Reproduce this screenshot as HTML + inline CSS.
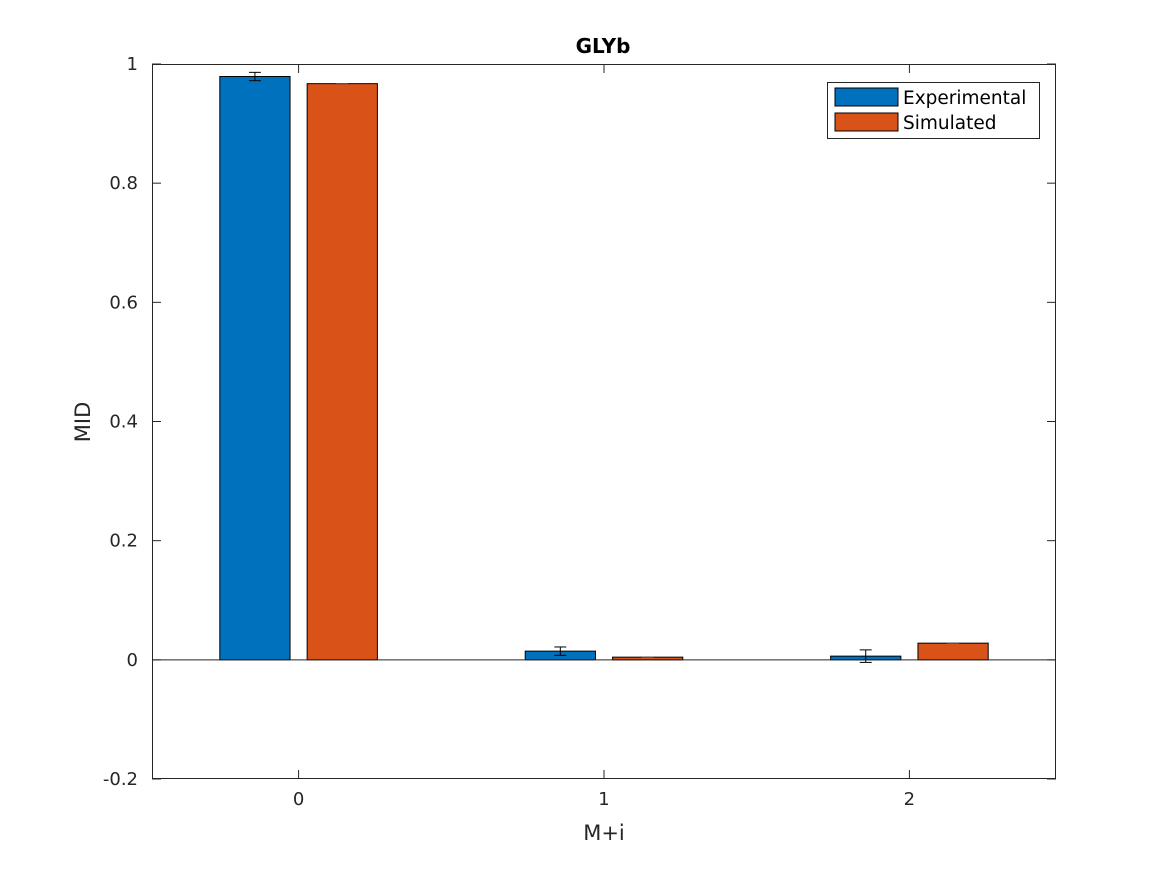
<!DOCTYPE html>
<html><head><meta charset="utf-8"><style>
body{margin:0;background:#fff;}
svg{display:block;font-family:"DejaVu Sans","Liberation Sans",sans-serif;}
</style></head><body>
<svg id="chart" width="1167" height="875" viewBox="0 0 1167 875"></svg>
<script>
const categories=["0","1","2"];
const experimental=[0.979,0.0146,0.0062];
const experimentalErr=[0.007,0.007,0.0105];
const simulated=[0.967,0.0045,0.028];
const yTicks=[-0.2,0,0.2,0.4,0.6,0.8,1];
const yTickLabels=["-0.2","0","0.2","0.4","0.6","0.8","1"];
const svg=document.getElementById('chart');
const NS='http://www.w3.org/2000/svg';
const L=152,R=1056,T=64,B=779;
const xmin=-0.48,xmax=2.48,ymin=-0.2,ymax=1;
const xs=v=>L+(v-xmin)/(xmax-xmin)*(R-L);
const ys=v=>B-(v-ymin)/(ymax-ymin)*(B-T);
function el(t,a,p){const e=document.createElementNS(NS,t);for(const k in a)e.setAttribute(k,a[k]);(p||svg).appendChild(e);return e;}
el('rect',{x:L,y:T,width:R-L,height:B-T,fill:'#fff',stroke:'none'});
const bw=0.23,off=0.143;
function drawBars(vals,color,sign,name){
  vals.forEach((v,i)=>{
    const c=i+sign*off;
    const y0=ys(0),y1=ys(v);
    const r=el('rect',{x:xs(c-bw/2),y:Math.min(y0,y1),width:xs(c+bw/2)-xs(c-bw/2),height:Math.abs(y0-y1),fill:color,stroke:'#000','stroke-width':1});
    
    
  });
}
drawBars(experimental,'#0072BD',-1,'experimental');
drawBars(simulated,'#D95319',1,'simulated');
experimental.forEach((v,i)=>{
  const c=xs(i-off),e=experimentalErr[i];
  const g=el('g',{stroke:'#000','stroke-width':1});
  
  
  el('line',{x1:c,x2:c,y1:ys(v-e),y2:ys(v+e)},g);
  el('line',{x1:c-6,x2:c+6,y1:ys(v-e),y2:ys(v-e)},g);
  el('line',{x1:c-6,x2:c+6,y1:ys(v+e),y2:ys(v+e)},g);
});
simulated.forEach((v,i)=>{
  const c=xs(i+off);
  el('line',{x1:c-6,x2:c+6,y1:ys(v),y2:ys(v),stroke:'#555','stroke-width':1});
});
el('line',{x1:L,x2:R,y1:ys(0),y2:ys(0),stroke:'#262626','stroke-width':1});
const ax=el('rect',{x:L+0.5,y:T+0.5,width:R-L-1,height:B-T-1,fill:'none',stroke:'#262626','stroke-width':1});

yTicks.forEach((t,i)=>{
  const y=ys(t);
  el('line',{x1:L,x2:L+9,y1:y,y2:y,stroke:'#262626'});
  el('line',{x1:R-9,x2:R,y1:y,y2:y,stroke:'#262626'});
  const tx=el('text',{x:L-14,y:y+6,'text-anchor':'end','font-size':18,fill:'#262626'});
  tx.textContent=yTickLabels[i];
  
});
categories.forEach((c,i)=>{
  const x=xs(i);
  el('line',{x1:x,x2:x,y1:B,y2:B-9,stroke:'#262626'});
  el('line',{x1:x,x2:x,y1:T,y2:T+9,stroke:'#262626'});
  const tx=el('text',{x:x,y:B+26,'text-anchor':'middle','font-size':18,fill:'#262626'});
  tx.textContent=c;
  
});
</script>
<svg style="position:absolute;left:0;top:0" width="1167" height="875">
<text x="603" y="53" text-anchor="middle" font-size="20" font-weight="bold" fill="#000" font-family="DejaVu Sans,sans-serif">GLYb</text>
<text x="604" y="840" text-anchor="middle" font-size="21" fill="#262626" font-family="DejaVu Sans,sans-serif">M+i</text>
<text transform="translate(90,422) rotate(-90)" text-anchor="middle" font-size="21" fill="#262626" font-family="DejaVu Sans,sans-serif">MID</text>
<g>
<rect x="827.5" y="82.5" width="212" height="56" fill="#fff" stroke="#262626"/>
<rect x="835" y="88" width="63" height="18" fill="#0072BD" stroke="#000"/>
<text x="903" y="104" font-size="18.5" fill="#000" font-family="DejaVu Sans,sans-serif">Experimental</text>
<rect x="835" y="113" width="63" height="18" fill="#D95319" stroke="#000"/>
<text x="903" y="129" font-size="18.5" fill="#000" font-family="DejaVu Sans,sans-serif">Simulated</text>
</g>
</svg>
</body></html>
